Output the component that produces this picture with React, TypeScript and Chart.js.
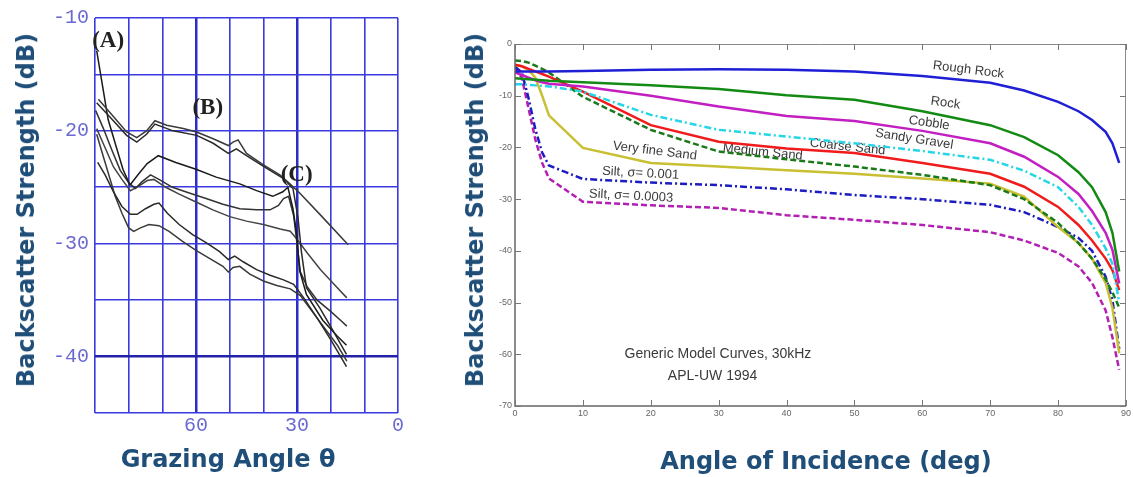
import React, { useEffect, useRef } from "react";
import { Chart, registerables } from "chart.js";

Chart.register(...registerables);

// ================= LEFT PANEL: measured curves [grazing angle (deg), dB] =================
const leftCurve1: [number, number][] = [
  [89, -17.2], [85.5, -18.4], [80.6, -20.1], [77.6, -20.6], [74.7, -20.0], [72.2, -19.1],
  [68.7, -19.5], [63.8, -19.8], [59.8, -20.1], [54.9, -20.7], [50.4, -21.3], [49, -21.0],
  [47.5, -20.8], [45, -22.0], [40.1, -23.0], [35.1, -23.9], [32.1, -24.7], [29.2, -25.5],
  [23.2, -27.4], [14.8, -30.1],
];
const leftCurve2: [number, number][] = [
  [89.5, -17.5], [85.5, -18.8], [80.6, -20.4], [77.6, -21.0], [74.7, -20.3], [72.2, -19.4],
  [66.8, -20.0], [59.8, -20.4], [54.9, -21.1], [50.4, -22.0], [48, -21.6], [45, -22.2],
  [39.1, -23.3], [34.1, -24.2], [31.2, -25.1], [29.7, -27.7], [28.7, -30.7], [27.2, -33.9],
  [23.2, -35.7], [19.3, -37.7], [15.3, -39.8],
];
const leftCurve3: [number, number][] = [
  [89.5, -12.9], [87.6, -16.3], [86.1, -19.0], [83.5, -21.6], [81.7, -23.4], [79.6, -24.8],
  [77, -23.8], [74.5, -22.9], [71.2, -22.2], [66, -22.8], [60, -23.4], [54, -24.1],
  [47, -24.7], [42, -25.3], [37.2, -25.8], [34.2, -25.4], [32.7, -25.0], [31.2, -26.9],
  [30.2, -28.9], [29.2, -32.4], [27.2, -34.5], [22.3, -36.8], [18, -38.2], [15.3, -39.0],
];
const leftCurve4: [number, number][] = [
  [89.8, -18.2], [87.5, -19.8], [85, -21.7], [82.5, -23.5], [80, -24.6], [78, -25.1],
  [76, -24.5], [73.5, -23.9], [71, -24.3], [67, -25.0], [62, -25.5], [57, -26.0],
  [52, -26.5], [47, -26.9], [42, -27.0], [38, -27.0], [35.5, -26.6], [34, -26.0],
  [32.5, -25.8], [31, -27.5], [30, -30.0], [29, -32.5], [27, -33.8], [24, -35.0],
  [20, -36.0], [17, -36.8], [15.2, -37.3],
];
const leftCurve5: [number, number][] = [
  [89.5, -19.8], [87, -21.5], [84.5, -23.2], [82, -24.3], [79.5, -25.3], [77, -24.9],
  [74.5, -24.4], [72.5, -24.3], [69, -25.0], [65, -25.6], [60, -26.3], [55, -27.0],
  [50, -27.6], [45, -28.0], [40, -28.3], [35, -28.7], [32, -28.9], [30, -29.6],
  [27, -30.8], [23, -32.3], [19, -33.6], [15.2, -34.8],
];
const leftCurve6: [number, number][] = [
  [89.2, -22.8], [87, -23.9], [84.5, -25.4], [82, -26.7], [79.5, -27.4], [77.5, -27.4],
  [75, -26.9], [72.5, -26.5], [71, -26.4], [68.5, -27.3], [65, -28.3], [61, -29.2],
  [57, -29.9], [53, -30.7], [50.4, -31.4], [48.5, -31.1], [46, -31.6], [42, -32.3],
  [38, -32.8], [34, -33.2], [31, -33.6], [28, -34.8], [24, -36.6], [20, -38.5], [15.3, -40.9],
];
const leftCurve7: [number, number][] = [
  [89.5, -20.3], [88, -21.8], [86, -23.8], [84, -25.8], [82, -27.3], [80, -28.6],
  [78.5, -28.9], [76.5, -28.6], [74, -28.3], [71, -28.4], [68, -28.9], [64, -29.8],
  [60, -30.6], [56, -31.3], [52, -32.0], [50.4, -32.5], [49, -32.1], [47, -32.0],
  [44, -32.7], [40, -33.3], [36, -33.7], [32, -34.0], [29, -34.6], [26, -35.8],
  [22, -37.4], [18, -39.0], [15.2, -40.4],
];
const leftCurves = [leftCurve1, leftCurve2, leftCurve3, leftCurve4, leftCurve5, leftCurve6, leftCurve7];
const leftCurveColors = ["#3a3a3a", "#2a2a2a", "#1a1a1a", "#333333", "#444444", "#2a2a2a", "#3a3a3a"];

const leftLabeledAngles = [60, 30, 0];
const leftLabeledDb = [-10, -20, -30, -40];
const leftMarkTexts = ["(A)", "(B)", "(C)"];
const leftMarkAngles = [86.1, 56.5, 30.1];
const leftMarkDb = [-12.0, -18.0, -23.9];

// ================= RIGHT PANEL: generic model curves =================
const incidenceAngles = [0, 1, 2, 3, 4, 5, 10, 20, 30, 40, 50, 60, 70, 75, 80, 83, 85, 87, 88, 89];
const roughRock = [-5.3, -5.3, -5.3, -5.3, -5.3, -5.3, -5.2, -5.0, -4.9, -5.0, -5.3, -6.2, -7.5, -9.0, -11.2, -13.0, -14.7, -17.0, -19.2, -23.0];
const rock = [-6.6, -6.7, -6.8, -6.9, -7.0, -7.1, -7.4, -8.0, -8.7, -9.9, -10.8, -13.0, -15.7, -18.0, -21.5, -24.8, -27.7, -32.5, -36.5, -44.0];
const cobble = [-5.5, -6.0, -6.5, -7.0, -7.4, -7.7, -8.2, -10.0, -12.1, -13.9, -14.9, -16.8, -19.2, -21.8, -25.7, -29.0, -32.3, -36.5, -39.8, -46.3];
const sandyGravel = [-7.8, -7.8, -7.9, -8.0, -8.1, -8.2, -9.2, -13.7, -16.6, -17.9, -19.2, -20.7, -22.4, -24.5, -27.7, -31.5, -35.0, -39.5, -42.5, -50.0];
const coarseSand = [-4.0, -4.3, -4.8, -5.3, -5.8, -6.3, -9.2, -15.7, -18.9, -20.2, -21.1, -23.0, -25.1, -27.6, -31.5, -35.0, -38.0, -41.5, -43.7, -47.6];
const mediumSand = [-3.2, -3.3, -3.6, -4.2, -4.8, -5.5, -10.2, -16.6, -20.8, -22.3, -23.7, -25.3, -27.3, -30.0, -34.6, -38.5, -41.5, -45.5, -48.0, -51.0];
const veryFineSand = [-4.0, -4.3, -5.0, -6.5, -10.0, -13.8, -20.1, -23.0, -23.7, -24.4, -25.1, -26.0, -27.0, -29.5, -35.4, -38.5, -41.5, -46.2, -51.0, -59.8];
const silt001 = [-4.4, -5.5, -10.5, -16.5, -21.0, -23.5, -26.1, -26.8, -27.3, -28.1, -29.2, -30.0, -31.1, -32.5, -35.4, -37.5, -40.0, -45.0, -49.5, -59.0];
const silt0003 = [-4.6, -6.5, -12.5, -18.5, -23.0, -26.0, -30.5, -31.2, -31.7, -33.1, -34.0, -35.0, -36.4, -38.0, -40.4, -43.0, -46.2, -51.5, -56.7, -63.0];

const rightSeries = [roughRock, rock, cobble, sandyGravel, coarseSand, mediumSand, veryFineSand, silt001, silt0003];
const rightSeriesNames = ["Rough Rock", "Rock", "Cobble", "Sandy Gravel", "Coarse Sand", "Medium Sand", "Very fine Sand", "Silt, σ= 0.001", "Silt, σ= 0.0003"];
const rightColors = ["#1f1fd6", "#138a13", "#c21fc2", "#26d6e6", "#f01c1c", "#1a7a1a", "#c8c032", "#1c1cc0", "#b21fb2"];
const rightDashes: number[][] = [[], [], [], [7, 3, 2, 3], [], [6, 3], [], [7, 3, 2, 3], [6, 3]];

const rightXTicks = [0, 10, 20, 30, 40, 50, 60, 70, 80, 90];
const rightYTicks = [0, -10, -20, -30, -40, -50, -60, -70];

// curve-label anchors (angle, dB, rotation deg)
const rightLabelAngles = [66.8, 63.4, 61.0, 58.8, 49.0, 36.5, 20.6, 18.5, 17.1];
const rightLabelDb = [-5.0, -11.4, -15.3, -18.4, -19.9, -20.9, -20.7, -25.0, -29.4];
const rightLabelRot = [7, 8, 8, 9, 6, 6, 7, 3, 3];
const rightNoteLines = ["Generic Model Curves, 30kHz", "APL-UW 1994"];
const rightNoteAngles = [29.9, 29.1];
const rightNoteDb = [-60.0, -64.2];

const TITLE_COLOR = "#1f4e79";

const leftMarksPlugin = {
  id: "leftMarks",
  afterDatasetsDraw(chart: any) {
    const { ctx, scales } = chart;
    ctx.save();
    ctx.font = 'bold 23px "Liberation Serif"';
    ctx.fillStyle = "#222";
    ctx.textAlign = "center";
    ctx.textBaseline = "middle";
    leftMarkTexts.forEach((t, i) => {
      ctx.fillText(t, scales.x.getPixelForValue(leftMarkAngles[i]), scales.y.getPixelForValue(leftMarkDb[i]));
    });
    ctx.restore();
  },
};

const rightLabelsPlugin = {
  id: "rightLabels",
  beforeDatasetsDraw(chart: any) {
    const { ctx, scales } = chart;
    ctx.save();
    ctx.fillStyle = "#3a3a3a";
    ctx.textAlign = "center";
    ctx.textBaseline = "middle";
    ctx.font = '13px "Liberation Sans"';
    rightSeriesNames.forEach((t, i) => {
      const px = scales.x.getPixelForValue(rightLabelAngles[i]);
      const py = scales.y.getPixelForValue(rightLabelDb[i]);
      ctx.save();
      ctx.translate(px, py);
      ctx.rotate((rightLabelRot[i] * Math.PI) / 180);
      ctx.fillText(t, 0, 0);
      ctx.restore();
    });
    ctx.font = '14px "Liberation Sans"';
    rightNoteLines.forEach((t, i) => {
      ctx.fillText(t, scales.x.getPixelForValue(rightNoteAngles[i]), scales.y.getPixelForValue(rightNoteDb[i]));
    });
    ctx.restore();
  },
  afterDraw(chart: any) {
    const { ctx, chartArea: a, scales } = chart;
    ctx.save();
    ctx.strokeStyle = "#8a8a8a";
    ctx.lineWidth = 1;
    ctx.beginPath();
    ctx.moveTo(a.left, a.top + 0.5);
    ctx.lineTo(a.right - 0.5, a.top + 0.5);
    ctx.lineTo(a.right - 0.5, a.bottom);
    ctx.stroke();
    ctx.strokeStyle = "#666";
    ctx.lineWidth = 1.5;
    ctx.beginPath();
    ctx.moveTo(a.left, a.top);
    ctx.lineTo(a.left, a.bottom);
    ctx.lineTo(a.right, a.bottom);
    ctx.stroke();
    ctx.strokeStyle = "#777";
    ctx.lineWidth = 1;
    ctx.beginPath();
    rightXTicks.forEach((v) => {
      const px = Math.round(scales.x.getPixelForValue(v)) + 0.5;
      ctx.moveTo(px, a.bottom);
      ctx.lineTo(px, a.bottom - 6);
      ctx.moveTo(px, a.top);
      ctx.lineTo(px, a.top + 6);
    });
    rightYTicks.forEach((v) => {
      const py = Math.round(scales.y.getPixelForValue(v)) + 0.5;
      ctx.moveTo(a.left, py);
      ctx.lineTo(a.left + 6, py);
      ctx.moveTo(a.right, py);
      ctx.lineTo(a.right - 6, py);
    });
    ctx.stroke();
    ctx.restore();
  },
};

export default function App() {
  const leftRef = useRef<HTMLCanvasElement>(null);
  const rightRef = useRef<HTMLCanvasElement>(null);

  useEffect(() => {
    const gridBlue = "#3a3ae0";
    const left = new Chart(leftRef.current as HTMLCanvasElement, {
      type: "scatter",
      data: {
        datasets: leftCurves.map((c, i) => ({
          data: c.map(([x, y]) => ({ x, y })),
          showLine: true,
          borderColor: leftCurveColors[i],
          borderWidth: 1.5,
          pointRadius: 0,
          tension: 0,
        })),
      },
      options: {
        animation: false,
        responsive: false,
        maintainAspectRatio: false,
        events: [],
        layout: { padding: { top: 15, right: 22, left: 0, bottom: 0 } },
        plugins: { legend: { display: false }, tooltip: { enabled: false } },
        scales: {
          x: {
            type: "linear",
            min: 0,
            max: 90,
            reverse: true,
            afterBuildTicks: (s: any) => {
              s.ticks = [90, 80, 70, 60, 50, 40, 30, 20, 10, 0].map((v) => ({ value: v }));
            },
            afterFit: (s: any) => {
              s.height = 64;
            },
            ticks: {
              autoSkip: false,
              maxRotation: 0,
              padding: 1,
              color: "#6a6ad0",
              font: { family: "Liberation Mono", size: 20 },
              callback: (v: any) => (leftLabeledAngles.includes(Number(v)) ? String(v) : ""),
            },
            grid: {
              drawTicks: false,
              color: (c: any) => (c.tick && (c.tick.value === 60 || c.tick.value === 30) ? "#2c2cc8" : gridBlue),
              lineWidth: (c: any) => (c.tick && (c.tick.value === 60 || c.tick.value === 30) ? 2.5 : 1.6),
            },
            border: { display: false },
          },
          y: {
            type: "linear",
            min: -45,
            max: -10,
            afterBuildTicks: (s: any) => {
              s.ticks = [-45, -40, -35, -30, -25, -20, -15, -10].map((v) => ({ value: v }));
            },
            afterFit: (s: any) => {
              s.width = 95;
            },
            ticks: {
              autoSkip: false,
              padding: 6,
              color: "#6a6ad0",
              font: { family: "Liberation Mono", size: 20 },
              callback: (v: any) => (leftLabeledDb.includes(Number(v)) ? String(v) : ""),
            },
            grid: {
              drawTicks: false,
              color: (c: any) => (c.tick && c.tick.value === -40 ? "#2222a8" : gridBlue),
              lineWidth: (c: any) => (c.tick && c.tick.value === -40 ? 2.6 : 1.6),
            },
            border: { display: false },
          },
        },
      },
      plugins: [leftMarksPlugin],
    } as any);

    const right = new Chart(rightRef.current as HTMLCanvasElement, {
      type: "line",
      data: {
        labels: incidenceAngles,
        datasets: rightSeries.map((s, i) => ({
          label: rightSeriesNames[i],
          data: s.map((y, j) => ({ x: incidenceAngles[j], y })),
          borderColor: rightColors[i],
          borderWidth: 2.5,
          borderDash: rightDashes[i],
          pointRadius: 0,
          tension: 0,
          fill: false,
        })),
      },
      options: {
        animation: false,
        responsive: false,
        maintainAspectRatio: false,
        events: [],
        layout: { padding: { top: 44, right: 6, left: 0, bottom: 0 } },
        plugins: { legend: { display: false }, tooltip: { enabled: false } },
        scales: {
          x: {
            type: "linear",
            min: 0,
            max: 90,
            afterBuildTicks: (s: any) => {
              s.ticks = rightXTicks.map((v) => ({ value: v }));
            },
            afterFit: (s: any) => {
              s.height = 71;
            },
            ticks: {
              autoSkip: false,
              maxRotation: 0,
              padding: 2,
              color: "#666",
              font: { family: "Liberation Sans", size: 9 },
            },
            grid: { display: false, drawTicks: false },
            border: { display: false },
          },
          y: {
            type: "linear",
            min: -70,
            max: 0,
            afterBuildTicks: (s: any) => {
              s.ticks = rightYTicks.map((v) => ({ value: v }));
            },
            afterFit: (s: any) => {
              s.width = 75;
            },
            ticks: {
              autoSkip: false,
              padding: 3,
              color: "#666",
              font: { family: "Liberation Sans", size: 9 },
            },
            grid: { display: false, drawTicks: false },
            border: { display: false },
          },
        },
      },
      plugins: [rightLabelsPlugin],
    } as any);

    return () => {
      left.destroy();
      right.destroy();
    };
  }, []);

  const titleBase: React.CSSProperties = {
    position: "absolute",
    fontFamily: '"DejaVu Sans", sans-serif',
    fontWeight: "bold",
    fontSize: 24,
    color: TITLE_COLOR,
    whiteSpace: "nowrap",
    lineHeight: 1,
  };

  return (
    <div style={{ position: "absolute", left: 0, top: 0, width: 1133, height: 477, background: "#fff", overflow: "hidden" }}>
      <canvas ref={leftRef} width={420} height={477} style={{ position: "absolute", left: 0, top: 0, width: 420, height: 477 }} />
      <canvas ref={rightRef} width={693} height={477} style={{ position: "absolute", left: 440, top: 0, width: 693, height: 477 }} />
      <div style={{ ...titleBase, left: 26, top: 210, transform: "translate(-50%, -50%) rotate(-90deg)" }}>Backscatter Strength (dB)</div>
      <div style={{ ...titleBase, left: 228, top: 459, transform: "translate(-50%, -50%)" }}>Grazing Angle θ</div>
      <div style={{ ...titleBase, left: 475, top: 210, transform: "translate(-50%, -50%) rotate(-90deg)" }}>Backscatter Strength (dB)</div>
      <div style={{ ...titleBase, left: 826, top: 461, transform: "translate(-50%, -50%)" }}>Angle of Incidence (deg)</div>
    </div>
  );
}
